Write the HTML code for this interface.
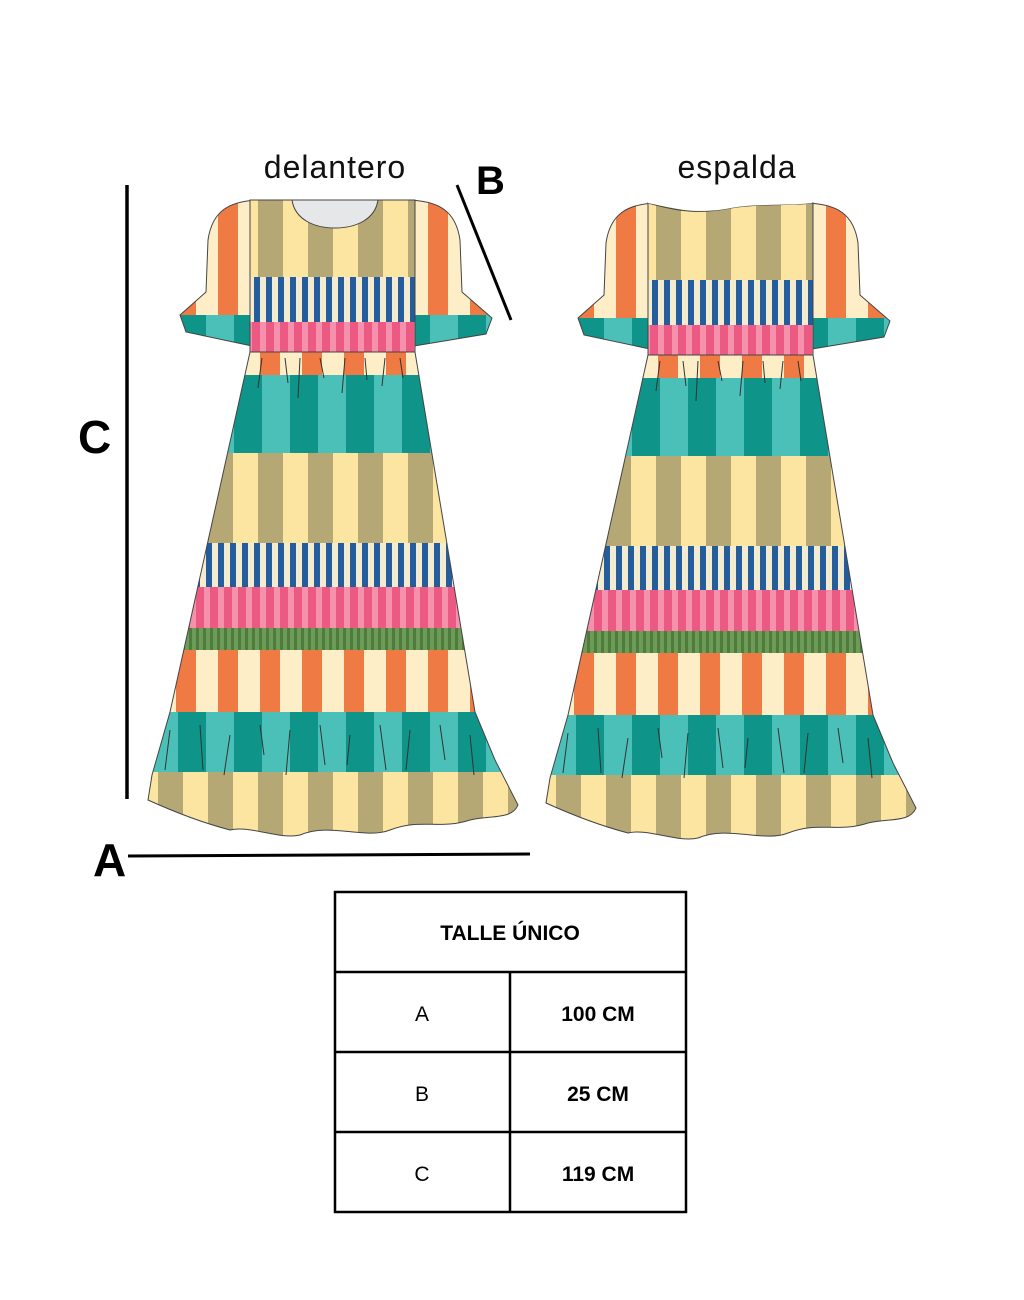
<!DOCTYPE html>
<html><head><meta charset="utf-8"><style>
html,body{margin:0;padding:0;background:#fff;}
body{width:1024px;height:1300px;position:relative;overflow:hidden;font-family:"Liberation Sans",sans-serif;}
</style></head><body>
<svg width="1024" height="1300" viewBox="0 0 1024 1300" xmlns="http://www.w3.org/2000/svg" style="position:absolute;left:0;top:0">
<defs>
<pattern id="po" width="42" height="10" patternUnits="userSpaceOnUse" x="0"><rect width="42" height="10" fill="#fdeec8"/><rect x="8" width="20" height="10" fill="#ef7a43"/></pattern>
<pattern id="pk" width="50" height="10" patternUnits="userSpaceOnUse" x="8"><rect width="50" height="10" fill="#fbe5a0"/><rect width="25" height="10" fill="#b6a874"/></pattern>
<pattern id="pt" width="56" height="10" patternUnits="userSpaceOnUse" x="10"><rect width="56" height="10" fill="#4bc0b8"/><rect width="28" height="10" fill="#0e9488"/></pattern>
<pattern id="pb" width="12" height="10" patternUnits="userSpaceOnUse"><rect width="12" height="10" fill="#f4ecd0"/><rect x="2" width="6" height="10" fill="#255d9c"/></pattern>
<pattern id="pp" width="14" height="10" patternUnits="userSpaceOnUse"><rect width="14" height="10" fill="#f590ad"/><rect width="8" height="10" fill="#ec5a83"/></pattern>
<pattern id="pg" width="7" height="10" patternUnits="userSpaceOnUse"><rect width="7" height="10" fill="#6d9c58"/><rect width="3" height="10" fill="#4f7c3d"/></pattern>
<clipPath id="skirt"><path d="M250,352 L415,352 L475,712 L495,760 L518,805 C512,820 490,815 470,820 C440,830 420,818 390,830 C365,840 330,822 300,835 C280,840 250,825 230,830 C200,822 170,810 148,800 L152,775 L170,712 Z"/></clipPath>
<clipPath id="sl"><path d="M262,200 C228,200 212,212 208,240 L206,292 L180,315 L186,332 L252,346 L252,200 Z M405,200 C440,200 456,212 460,240 L462,292 L492,318 L486,334 L414,346 L414,200 Z"/></clipPath>
<g id="dress">
 <g clip-path="url(#sl)">
  <rect x="170" y="195" width="330" height="125" fill="url(#po)"/>
  <rect x="170" y="315" width="330" height="40" fill="url(#pt)"/>
 </g>
 <path d="M262,200 C228,200 212,212 208,240 L206,292 L180,315 L186,332 L252,346 M405,200 C440,200 456,212 460,240 L462,292 L492,318 L486,334 L414,346" fill="none" stroke="#444" stroke-width="1"/>
 <rect x="250" y="200" width="165" height="77" fill="url(#pk)"/>
 <rect x="250" y="277" width="165" height="45" fill="url(#pb)"/>
 <rect x="250" y="322" width="165" height="30" fill="url(#pp)"/>
 <rect x="250" y="200" width="165" height="152" fill="none" stroke="#444" stroke-width="1"/>
 <g clip-path="url(#skirt)">
  <rect x="140" y="350" width="390" height="25" fill="url(#po)"/>
  <rect x="140" y="375" width="390" height="78" fill="url(#pt)"/>
  <rect x="140" y="453" width="390" height="90" fill="url(#pk)"/>
  <rect x="140" y="543" width="390" height="44" fill="url(#pb)"/>
  <rect x="140" y="587" width="390" height="41" fill="url(#pp)"/>
  <rect x="140" y="628" width="390" height="22" fill="url(#pg)"/>
  <rect x="140" y="650" width="390" height="62" fill="url(#po)"/>
  <rect x="140" y="712" width="390" height="60" fill="url(#pt)"/>
  <rect x="140" y="772" width="390" height="80" fill="url(#pk)"/>
 </g>
 <path d="M250,352 L415,352 L475,712 L495,760 L518,805 C512,820 490,815 470,820 C440,830 420,818 390,830 C365,840 330,822 300,835 C280,840 250,825 230,830 C200,822 170,810 148,800 L152,775 L170,712 Z" fill="none" stroke="#444" stroke-width="1"/>
 <g stroke="#333" stroke-width="1" fill="none">
  <path d="M262,358 l-4,30 M285,358 l3,25 M300,358 l-2,40 M320,358 l4,20 M345,358 l-3,35 M365,358 l2,22 M385,358 l-3,28 M400,358 l3,20"/>
  <path d="M170,730 l-5,40 M200,725 l3,45 M230,735 l-6,40 M260,725 l4,30 M290,730 l-4,45 M320,725 l5,40 M350,735 l-3,30 M380,725 l6,45 M410,730 l-4,40 M440,725 l5,35 M470,735 l4,40"/>
 </g>
</g>
</defs>
<use href="#dress"/>
<use href="#dress" x="398" y="3"/>
<path d="M292,200 C295,220 315,228 335,228 C355,228 375,220 378,200 Z" fill="#e6e7e8" stroke="#444" stroke-width="1"/>
<path d="M648,203 C680,212 700,214 731,208 C760,203 790,206 812,203" fill="none" stroke="#444" stroke-width="1"/>
<rect x="640" y="194" width="180" height="8" fill="#fff"/>
<path d="M648,203 C680,210 700,214 731,208 C760,203 790,206 812,203 L812,200 L648,200 Z" fill="#fff"/>
<text x="335" y="178" text-anchor="middle" font-size="32" font-family="Liberation Sans, sans-serif" fill="#111" letter-spacing="1">delantero</text>
<text x="737" y="178" text-anchor="middle" font-size="32" font-family="Liberation Sans, sans-serif" fill="#111" letter-spacing="1">espalda</text>
<text x="476" y="194" font-size="40" font-weight="bold" fill="#000">B</text>
<line x1="457" y1="185" x2="511" y2="320" stroke="#000" stroke-width="3"/>
<text x="78" y="453" font-size="46" font-weight="bold" fill="#000">C</text>
<line x1="127" y1="185" x2="127" y2="799" stroke="#000" stroke-width="3.5"/>
<text x="93" y="876" font-size="46" font-weight="bold" fill="#000">A</text>
<line x1="128" y1="856" x2="530" y2="854" stroke="#000" stroke-width="3"/>
<g stroke="#000" stroke-width="2.5" fill="none">
 <rect x="335" y="892" width="351" height="320"/>
 <line x1="335" y1="972" x2="686" y2="972"/>
 <line x1="335" y1="1052" x2="686" y2="1052"/>
 <line x1="335" y1="1132" x2="686" y2="1132"/>
 <line x1="510" y1="972" x2="510" y2="1212"/>
</g>
<g font-size="21" fill="#000" text-anchor="middle">
 <text x="510" y="940" font-weight="bold">TALLE ÚNICO</text>
 <text x="422" y="1021">A</text>
 <text x="598" y="1021" font-weight="bold">100 CM</text>
 <text x="422" y="1101">B</text>
 <text x="598" y="1101" font-weight="bold">25 CM</text>
 <text x="422" y="1181">C</text>
 <text x="598" y="1181" font-weight="bold">119 CM</text>
</g>
</svg>
</body></html>
